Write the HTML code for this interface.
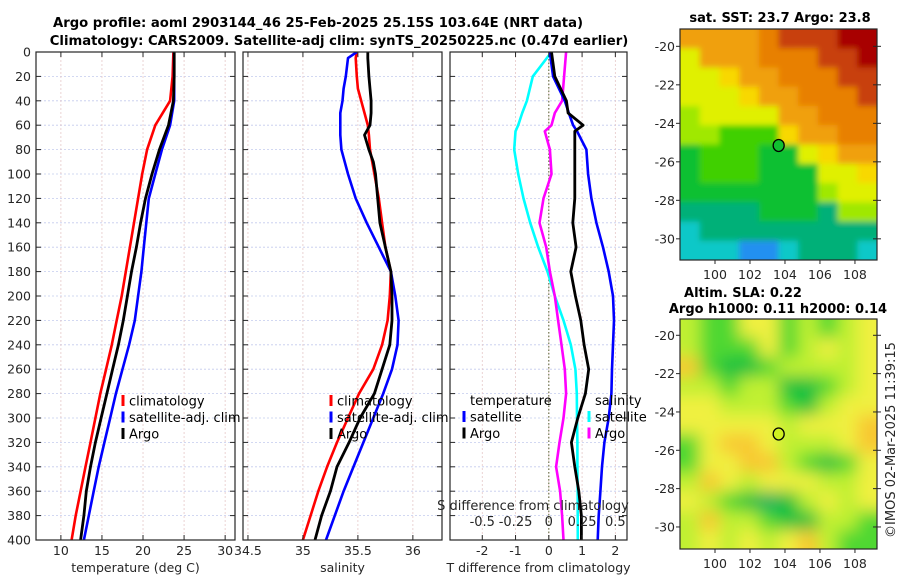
<!DOCTYPE html>
<html><head><meta charset="utf-8"><style>
html,body{margin:0;padding:0;background:#fff;width:900px;height:580px;overflow:hidden}
svg text{font-family:"DejaVu Sans","Liberation Sans",sans-serif;}
</style></head><body>
<svg id="fig" width="900" height="580" viewBox="0 0 900 580" xmlns="http://www.w3.org/2000/svg">
<defs>
<clipPath id="cp1"><rect x="36" y="52" width="199" height="488"/></clipPath>
<clipPath id="cp2"><rect x="243" y="52" width="199" height="488"/></clipPath>
<clipPath id="cp3"><rect x="450" y="52" width="177" height="488"/></clipPath>
<clipPath id="cm1"><rect x="680" y="29" width="197" height="231"/></clipPath>
<clipPath id="cm2"><rect x="680" y="319" width="197" height="230"/></clipPath>
<filter id="bl" x="-10%" y="-10%" width="120%" height="120%"><feGaussianBlur stdDeviation="8"/></filter>
<filter id="bl1" x="-10%" y="-10%" width="120%" height="120%"><feGaussianBlur stdDeviation="3"/></filter>
</defs>
<g id="root"></g>
</svg>
<script>
// ===== data =====
const depths=[0,20,40,60,80,100,120,140,160,180,200,220,240,260,280,300,320,340,360,380,400];
const tempClim=[23.7,23.6,23.3,21.5,20.5,19.9,19.4,18.9,18.4,17.9,17.4,16.8,16.2,15.5,14.8,14.2,13.6,13.0,12.4,11.8,11.3];
const tempArgo=[23.8,23.8,23.7,23.1,22.0,21.1,20.3,19.7,19.2,18.6,18.1,17.6,17.0,16.3,15.6,14.9,14.2,13.6,13.1,12.8,12.4];
const tempSat=[23.8,23.8,23.8,23.3,22.3,21.5,20.7,20.4,20.1,19.8,19.4,19.0,18.3,17.5,16.7,16.0,15.3,14.6,14.0,13.4,12.8];
const salDepths=[0,5,20,30,40,50,60,68,80,90,100,120,140,160,180,200,220,240,260,280,300,320,340,360,380,400];
const salClim=[35.49,35.48,35.49,35.50,35.53,35.56,35.59,35.60,35.61,35.63,35.65,35.69,35.72,35.75,35.80,35.79,35.77,35.72,35.64,35.51,35.41,35.31,35.22,35.14,35.07,35.00];
const salArgo=[35.59,35.59,35.60,35.61,35.62,35.62,35.61,35.56,35.60,35.64,35.66,35.68,35.70,35.75,35.80,35.81,35.81,35.79,35.72,35.65,35.52,35.42,35.31,35.25,35.17,35.11];
const salSat=[35.49,35.41,35.39,35.37,35.36,35.34,35.34,35.34,35.35,35.38,35.41,35.48,35.58,35.69,35.80,35.84,35.87,35.86,35.81,35.73,35.64,35.55,35.46,35.37,35.29,35.21];
const diffDepths=[0,20,40,50,60,65,80,100,120,140,160,180,200,220,240,260,280,300,320,340,360,380,400];
const dTSat=[0.03,0.13,0.48,0.60,0.73,0.85,1.13,1.18,1.28,1.43,1.63,1.80,1.93,1.96,1.93,1.90,1.88,1.80,1.67,1.60,1.55,1.50,1.47];
const dTArgo=[0.08,0.18,0.53,0.58,1.03,0.78,0.78,0.78,0.78,0.72,0.82,0.66,0.80,0.96,1.06,1.20,1.10,0.87,0.68,0.78,0.90,0.98,0.98];
const dSSat=[0.02,-0.12,-0.165,-0.2,-0.23,-0.25,-0.26,-0.23,-0.19,-0.14,-0.08,-0.01,0.045,0.11,0.165,0.2,0.21,0.212,0.215,0.215,0.217,0.217,0.218];
const dSArgo=[0.13,0.115,0.1,0.045,0.02,-0.03,0.008,0.02,-0.04,-0.07,-0.02,0.008,0.045,0.07,0.095,0.12,0.13,0.11,0.08,0.055,0.085,0.1,0.11];
const depthTicks=[0,20,40,60,80,100,120,140,160,180,200,220,240,260,280,300,320,340,360,380,400];
const tempTicks=[10,15,20,25,30];
const salTicks=[34.5,35,35.5,36];
const dTTicks=[-2,-1,0,1,2];
const dSTicks=[-0.5,-0.25,0,0.25,0.5];
const dSTickLabels=["-0.5","-0.25","0","0.25","0.5"];
const latTicks=[-20,-22,-24,-26,-28,-30];
const lonTicks=[100,102,104,106,108];
const sstRows=["oooo0rrrRR","Yooo000rrR","YYyoo000rr","YYYyoo000r","LYYYYoo000","LLGGGyoo00","gGGGggYyoo","gGGGgggYYy","gggggggLYY","ttttgggtLL","cttttttttt","cccbbctttc"];
const slaRows=["LGGYYGLGLY","LGGGYGLYLY","OGDDGLLLLY","LLGLLDDGLY","YYLLLGDLYY","YYYYYLYYYO","GYOOYLLLYO","GYYOOLGDGY","LOYLYYYLLY","YLGDTDLYLY","LOLLGDDLLG","LYLYLYOLGG"];
const sstPal={o:"#f0a010","0":"#e88000",r:"#c84008",R:"#a80000",y:"#f8d800",Y:"#e0f000",L:"#a0e800",G:"#40d000",g:"#10c030",t:"#00b078",c:"#10c8c8",b:"#2090f0"};
const slaPal={L:"#c0f030",G:"#50d830",D:"#10c040",Y:"#f0f040",O:"#f8c830",T:"#10b060"};
const floatLon=103.64, floatLat=-25.15;

// ===== helpers =====
const NS="http://www.w3.org/2000/svg";
const root=document.getElementById('root');
function mk(tag,attrs,parent){const e=document.createElementNS(NS,tag);for(const k in attrs)e.setAttribute(k,attrs[k]);(parent||root).appendChild(e);return e;}
function txt(s,x,y,opt,parent){const e=mk('text',Object.assign({x:x,y:y,'font-size':12.5,fill:'#262626'},opt||{}),parent);e.textContent=s;return e;}
const Y0=52,Y1=540;
const yD=d=>Y0+(d/400)*(Y1-Y0);

function panel(name,x0,x1,vmin,vmax,ticks){
  const g=mk('g',{});
  
  
  const sx=v=>x0+(v-vmin)/(vmax-vmin)*(x1-x0);
  mk('rect',{x:x0,y:Y0,width:x1-x0,height:Y1-Y0,fill:'#fff'},g);
  depthTicks.forEach(d=>{if(d>0&&d<400)mk('line',{x1:x0,x2:x1,y1:yD(d),y2:yD(d),stroke:'#c4cbee','stroke-width':0.8,'stroke-dasharray':'2,2'},g);});
  ticks.forEach(t=>{const x=sx(t);if(x>x0+1&&x<x1-1)mk('line',{x1:x,x2:x,y1:Y0,y2:Y1,stroke:'#e6c8c8','stroke-width':0.8,'stroke-dasharray':'2,2'},g);});
  return {g,sx};
}
function frame(g,x0,x1,ticks,sx,showY,xlabel,fmt){
  mk('rect',{x:x0,y:Y0,width:x1-x0,height:Y1-Y0,fill:'none',stroke:'#262626','stroke-width':1.2},g);
  depthTicks.forEach(d=>{const y=yD(d);
    mk('line',{x1:x0,x2:x0+5,y1:y,y2:y,stroke:'#262626'},g);
    mk('line',{x1:x1-5,x2:x1,y1:y,y2:y,stroke:'#262626'},g);
    if(showY){const t=txt(String(d),31,y+4.5,{'text-anchor':'end'},g);}
  });
  ticks.forEach(t=>{const x=sx(t);
    mk('line',{x1:x,x2:x,y1:Y1-5,y2:Y1,stroke:'#262626'},g);
    mk('line',{x1:x,x2:x,y1:Y0,y2:Y0+5,stroke:'#262626'},g);
    if(fmt){const e=txt(fmt(t),x,555,{'text-anchor':'middle'},g);}
  });
  if(xlabel){const e=txt(xlabel,(x0+x1)/2,572,{'text-anchor':'middle'},g);}
}
function line(g,xs,ds,sx,color,clip,w,name){
  let p='';xs.forEach((v,i)=>{p+=(i?'L':'M')+sx(v).toFixed(1)+','+yD(ds[i]).toFixed(1);});
  const e=mk('path',{d:p,fill:'none',stroke:color,'stroke-width':w||2.6,'stroke-linejoin':'round','clip-path':'url(#'+clip+')'},g);
  
  
}
function legend(g,x,y,items){
  items.forEach((it,i)=>{
    const yy=y+i*16.5;
    mk('line',{x1:x,x2:x,y1:yy-6,y2:yy+5,stroke:it[1],'stroke-width':3},g);
    const e=txt(it[0],x+6,yy+4.5,{'font-size':13,fill:'#000'},g);
    
    
  });
}

// titles
let t1=txt('Argo profile: aoml 2903144_46 25-Feb-2025 25.15S 103.64E (NRT data)',318,27,{'text-anchor':'middle','font-weight':'bold','font-size':13.2,fill:'#000'});

let t2=txt('Climatology: CARS2009. Satellite-adj clim: synTS_20250225.nc (0.47d earlier)',339,45,{'text-anchor':'middle','font-weight':'bold','font-size':13.2,fill:'#000'});


// panel 1 temperature
{const P=panel('temperature-panel',36,235,6.97,31.2,tempTicks);
 line(P.g,tempClim,depths,P.sx,'#ff0000','cp1',2.6,'temp-climatology-line');
 line(P.g,tempSat,depths,P.sx,'#0000ff','cp1',2.6,'temp-satellite-line');
 line(P.g,tempArgo,depths,P.sx,'#000000','cp1',2.8,'temp-argo-line');
 frame(P.g,36,235,tempTicks,P.sx,true,'temperature (deg C)',v=>String(v));
 legend(P.g,123,401,[['climatology','#ff0000'],['satellite-adj. clim','#0000ff'],['Argo','#000']]);
}
// panel 2 salinity
{const P=panel('salinity-panel',243,442,34.455,36.265,salTicks);
 line(P.g,salClim,salDepths,P.sx,'#ff0000','cp2',2.6,'sal-climatology-line');
 line(P.g,salSat,salDepths,P.sx,'#0000ff','cp2',2.6,'sal-satellite-line');
 line(P.g,salArgo,salDepths,P.sx,'#000000','cp2',2.8,'sal-argo-line');
 frame(P.g,243,442,salTicks,P.sx,false,'salinity',v=>String(v));
 legend(P.g,331,401,[['climatology','#ff0000'],['satellite-adj. clim','#0000ff'],['Argo','#000']]);
}
// panel 3 differences
{const P=panel('difference-panel',450,627,-2.97,2.35,dTTicks);
 const sxS=v=>P.sx(v*4);
 mk('line',{x1:P.sx(0),x2:P.sx(0),y1:Y0,y2:Y1,stroke:'#556030','stroke-width':1,'stroke-dasharray':'1.5,2'},P.g);
 line(P.g,dSSat,diffDepths,sxS,'#00ffff','cp3',2.6,'sal-diff-satellite-line');
 line(P.g,dSArgo,diffDepths,sxS,'#ff00ff','cp3',2.6,'sal-diff-argo-line');
 line(P.g,dTSat,diffDepths,P.sx,'#0000ff','cp3',2.6,'temp-diff-satellite-line');
 line(P.g,dTArgo,diffDepths,P.sx,'#000000','cp3',2.8,'temp-diff-argo-line');
 frame(P.g,450,627,dTTicks,P.sx,false,'T difference from climatology',v=>String(v));
 const sl=txt('S difference from climatology',533,510,{'text-anchor':'middle','font-size':13},P.g);
 
 dSTicks.forEach((v,i)=>{const e=txt(dSTickLabels[i],sxS(v),526,{'text-anchor':'middle','font-size':13},P.g);
   });
 const h1=txt('temperature',470,405,{'font-size':13,fill:'#000'},P.g);
 legend(P.g,464,417,[['satellite','#0000ff'],['Argo','#000']]);
 const h2=txt('salinity',595,405,{'font-size':13,fill:'#000'},P.g);
 legend(P.g,589,417,[['satellite','#00ffff'],['Argo','#ff00ff']]);
}

// maps
function drawMap(name,y0,y1,rows,pal,clip,latTop,latBot,circleFill,filt){
  const g=mk('g',{});
  
  
  const x0=680,x1=877,lonL=98.0,lonR=109.26;
  const sx=v=>x0+(v-lonL)/(lonR-lonL)*(x1-x0);
  const sy=v=>y0+(latTop-v)/(latTop-latBot)*(y1-y0);
  const cg=mk('g',{'clip-path':'url(#'+clip+')'},g);
  const ig=mk('g',{filter:'url(#'+filt+')'},cg);
  const nr=rows.length,nc=rows[0].length,cw=(x1-x0)/nc,ch=(y1-y0)/nr;
  rows.forEach((r,i)=>{for(let j=0;j<nc;j++){
    const c=mk('rect',{x:x0+j*cw-(j==0?20:0),y:y0+i*ch-(i==0?20:0),width:cw+1+(j==0||j==nc-1?20:0),height:ch+1+(i==0||i==nr-1?20:0),fill:pal[r[j]]},ig);
    
    
  }});
  mk('rect',{x:x0,y:y0,width:x1-x0,height:y1-y0,fill:'none',stroke:'#262626','stroke-width':1.2},g);
  latTicks.forEach(l=>{const y=sy(l);
    mk('line',{x1:x1-4,x2:x1+4,y1:y,y2:y,stroke:'#262626'},g);
    mk('line',{x1:x0-4,x2:x0,y1:y,y2:y,stroke:'#262626'},g);
    const e=txt(String(l),675,y+4.5,{'text-anchor':'end'},g);});
  lonTicks.forEach(l=>{const x=sx(l);
    mk('line',{x1:x,x2:x,y1:y1,y2:y1+4,stroke:'#262626'},g);
    const e=txt(String(l),x,y1+19,{'text-anchor':'middle'},g);});
  const c=mk('ellipse',{cx:sx(floatLon),cy:sy(floatLat),rx:5.5,ry:6,fill:circleFill,stroke:'#000','stroke-width':1.3},g);
  
  
}
drawMap('sst-map',29,260,sstRows,sstPal,'cm1',-19.1,-31.1,'#10c030','bl1');
drawMap('sla-map',319,549,slaRows,slaPal,'cm2',-19.15,-31.15,'#d0f020','bl');
let m1=txt('sat. SST: 23.7 Argo: 23.8',780,22,{'text-anchor':'middle','font-weight':'bold','font-size':13,fill:'#000'});

let m2=txt('Altim. SLA: 0.22',743,297,{'text-anchor':'middle','font-weight':'bold','font-size':13,fill:'#000'});

let m3=txt('Argo h1000: 0.11 h2000: 0.14',778,313,{'text-anchor':'middle','font-weight':'bold','font-size':13,fill:'#000'});

let cr=txt('©IMOS 02-Mar-2025 11:39:15',0,0,{'text-anchor':'middle','font-size':13,transform:'translate(895,440) rotate(-90)'});

</script>
</body></html>
